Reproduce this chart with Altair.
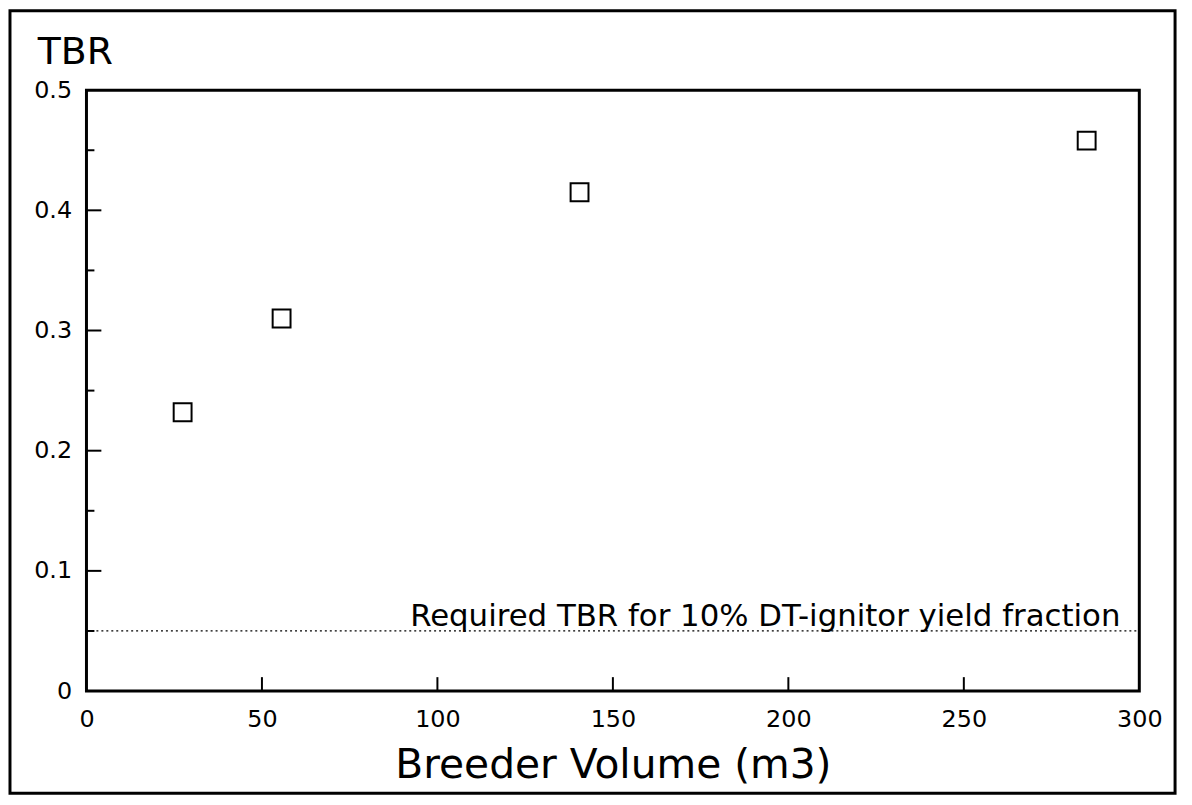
import altair as alt
import pandas as pd

# Data
volume = [27.4, 55.6, 140.5, 285.0]
tbr = [0.232, 0.310, 0.415, 0.458]

required_tbr = 0.05
annotation = "Required TBR for 10% DT-ignitor yield fraction"

x_major = [50, 100, 150, 200, 250]
y_major = [0.1, 0.2, 0.3, 0.4]
y_minor = [0.05, 0.15, 0.25, 0.35, 0.45]

x_labels = [0, 50, 100, 150, 200, 250, 300]
y_labels = [0, 0.1, 0.2, 0.3, 0.4, 0.5]

FONT = "DejaVu Sans"
W, H = 1060, 605

pts = pd.DataFrame({"vol": volume, "tbr": tbr})
xs = alt.Scale(domain=[0, 300], nice=False, zero=False)
ys = alt.Scale(domain=[0, 0.5], nice=False, zero=False)

xaxis = alt.Axis(values=x_labels, ticks=False, domain=False, grid=False,
                 labelFont=FONT, labelFontSize=24, labelColor="black",
                 labelPadding=17, title="Breeder Volume (m3)", titleFont=FONT,
                 titleFontSize=41, titleFontWeight="normal", titleColor="black",
                 titlePadding=14, labelFlush=False)
yaxis = alt.Axis(values=y_labels, ticks=False, domain=False, grid=False,
                 labelFont=FONT, labelFontSize=24, labelColor="black",
                 labelPadding=15, title=None,
                 labelExpr="datum.value == 0 ? '0' : format(datum.value, '.1f')",
                 labelFlush=False)

points = alt.Chart(pts).mark_point(shape="square", size=324, filled=False,
                                   stroke="black", strokeWidth=2, opacity=1).encode(
    x=alt.X("vol:Q", scale=xs, axis=xaxis),
    y=alt.Y("tbr:Q", scale=ys, axis=yaxis),
)

req = pd.DataFrame({"x": [0], "x2": [300], "y": [required_tbr]})
req_line = alt.Chart(req).mark_rule(stroke="black", strokeWidth=1.3,
                                    strokeDash=[2, 3]).encode(
    x=alt.X("x:Q", scale=xs), x2="x2:Q", y=alt.Y("y:Q", scale=ys))

ann = pd.DataFrame({"x": [300], "y": [required_tbr], "t": [annotation]})
ann_text = alt.Chart(ann).mark_text(align="right", baseline="alphabetic", dx=-19, dy=-5,
                                    font=FONT, fontSize=31, color="black").encode(
    x=alt.X("x:Q", scale=xs), y=alt.Y("y:Q", scale=ys), text="t:N")

ymaj = pd.DataFrame({"y": y_major})
ymaj_ticks = alt.Chart(ymaj).mark_rule(stroke="black", strokeWidth=2).encode(
    y=alt.Y("y:Q", scale=ys), x=alt.value(0), x2=alt.value(15))
ymin = pd.DataFrame({"y": y_minor})
ymin_ticks = alt.Chart(ymin).mark_rule(stroke="black", strokeWidth=2).encode(
    y=alt.Y("y:Q", scale=ys), x=alt.value(0), x2=alt.value(8))
xmaj = pd.DataFrame({"x": x_major})
xmaj_ticks = alt.Chart(xmaj).mark_rule(stroke="black", strokeWidth=2).encode(
    x=alt.X("x:Q", scale=xs), y=alt.value(H), y2=alt.value(H - 14))

title_df = pd.DataFrame({"t": ["TBR"]})
title_txt = alt.Chart(title_df).mark_text(align="left", baseline="alphabetic",
                                          font=FONT, fontSize=38, color="black").encode(
    x=alt.value(-49), y=alt.value(-26), text="t:N")

frame_df = pd.DataFrame({"a": [0]})
frame = alt.Chart(frame_df).mark_rect(filled=False, stroke="black", strokeWidth=3).encode(
    x=alt.value(-77), x2=alt.value(1096), y=alt.value(-80), y2=alt.value(708))

chart = alt.layer(frame, req_line, ymaj_ticks, ymin_ticks, xmaj_ticks, points,
                  ann_text, title_txt).properties(
    width=W, height=H,
    autosize=alt.AutoSizeParams(type="none"),
    padding={"left": 79, "top": 80, "right": 45, "bottom": 110},
    background="white",
).configure_view(stroke="black", strokeWidth=3)

chart.save("out.html", embed_options={"renderer": "svg", "actions": False})
